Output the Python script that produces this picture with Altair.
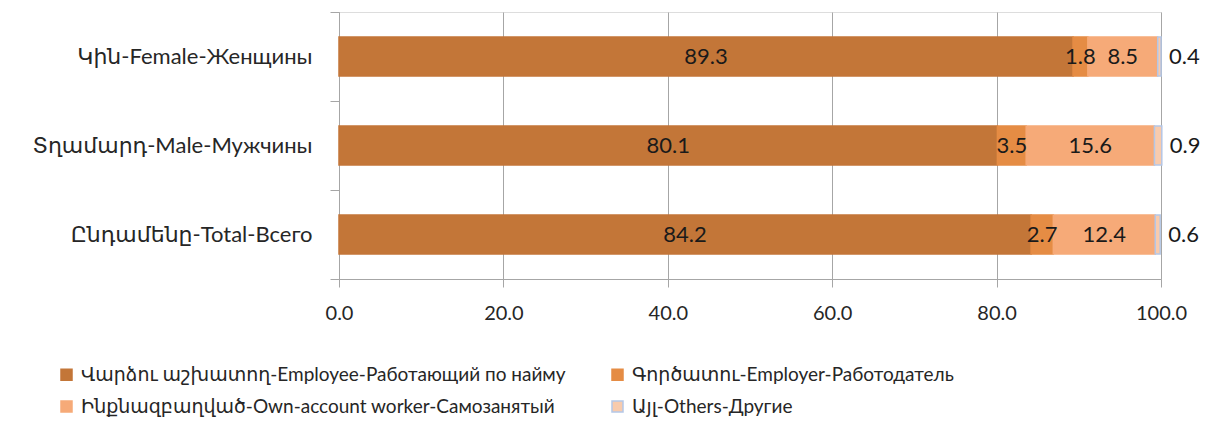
import altair as alt
import pandas as pd

groups = ["Կին-Female-Женщины", "Տղամարդ-Male-Мужчины", "Ընդամենը-Total-Всего"]
categories = [
    "Վարձու աշխատող-Employee-Работающий по найму",
    "Գործատու-Employer-Работодатель",
    "Ինքնազբաղված-Own-account worker-Самозанятый",
    "Այլ-Others-Другие",
]
employee = [89.3, 80.1, 84.2]
employer = [1.8, 3.5, 2.7]
own_account = [8.5, 15.6, 12.4]
others = [0.4, 0.9, 0.6]

fill_colors = ["#C37638", "#E58C44", "#F6AA78", "#F8CBAD"]
stroke_colors = ["#C37638", "#E58C44", "#F6AA78", "#B4C7E7"]

# legend is laid out column-major: order domain so that rows read
# Employee | Employer  /  Own-account | Others
legend_order = [0, 2, 1, 3]
dom = [categories[i] for i in legend_order]
fills = [fill_colors[i] for i in legend_order]
strokes = [stroke_colors[i] for i in legend_order]

series = [employee, employer, own_account, others]
rows = []
for gi, g in enumerate(groups):
    start = 0.0
    for ci, c in enumerate(categories):
        v = series[ci][gi]
        rows.append({"group": g, "cat": c, "order": ci, "value": v,
                     "start": start, "end": start + v,
                     "mid": start + v / 2, "label": f"{v:.1f}",
                     "inside": ci < 3})
        start += v
df = pd.DataFrame(rows)

FONT = "Lato, 'DejaVu Sans', sans-serif"
GRID = "#A6A6A6"
TXT = "#262626"

y_scale = alt.Scale(paddingInner=0, paddingOuter=0)
y_enc = alt.Y("group:N", sort=groups, title=None, scale=y_scale,
              axis=alt.Axis(labelFontSize=22, labelFont=FONT, labelColor=TXT,
                            labelLimit=600, tickBand="extent", tickSize=9,
                            tickColor=GRID, domainColor=GRID, labelPadding=18))

x_scale = alt.Scale(domain=[0, 100], nice=False)

bars = alt.Chart(df).mark_bar(strokeWidth=1.5, height={"band": 0.44}).encode(
    x=alt.X("start:Q", scale=x_scale, title=None,
            axis=alt.Axis(values=[0, 20, 40, 60, 80, 100], format=".1f",
                          labelFontSize=20, labelFont=FONT, labelColor=TXT,
                          labelFlush=False,
                          grid=True, gridColor=GRID, domainColor=GRID,
                          tickColor=GRID, tickSize=8, labelPadding=16)),
    x2="end:Q",
    y=y_enc,
    color=alt.Color("cat:N", title=None,
                    scale=alt.Scale(domain=dom, range=fills),
                    legend=alt.Legend(orient="none", legendX=-282, legendY=353,
                                      columns=2, columnPadding=42, rowPadding=12,
                                      symbolType="square", symbolSize=121,
                                      symbolStrokeWidth=1.5,
                                      labelFontSize=19, labelFont=FONT,
                                      labelColor=TXT, labelLimit=700,
                                      labelOffset=5)),
    stroke=alt.Stroke("cat:N", title=None,
                      scale=alt.Scale(domain=dom, range=strokes)),
    order=alt.Order("order:Q"),
)

inside_labels = alt.Chart(df).transform_filter("datum.inside").mark_text(
    fontSize=22, font=FONT, color="#1a1a1a"
).encode(
    x=alt.X("mid:Q", scale=x_scale),
    y=alt.Y("group:N", sort=groups, scale=y_scale),
    text="label:N",
)

outside_labels = alt.Chart(df).transform_filter("!datum.inside").mark_text(
    fontSize=22, font=FONT, color="#1a1a1a", align="left", dx=8
).encode(
    x=alt.X("end:Q", scale=x_scale),
    y=alt.Y("group:N", sort=groups, scale=y_scale),
    text="label:N",
)

chart = alt.layer(bars, inside_labels, outside_labels).properties(
    width=822, height=267,
    autosize=alt.AutoSizeParams(type="none"),
    padding={"left": 331, "top": 4, "right": 54, "bottom": 140},
).configure_view(stroke=None).configure(background="white")

chart.save("out.html", embed_options={"renderer": "svg", "actions": False})
